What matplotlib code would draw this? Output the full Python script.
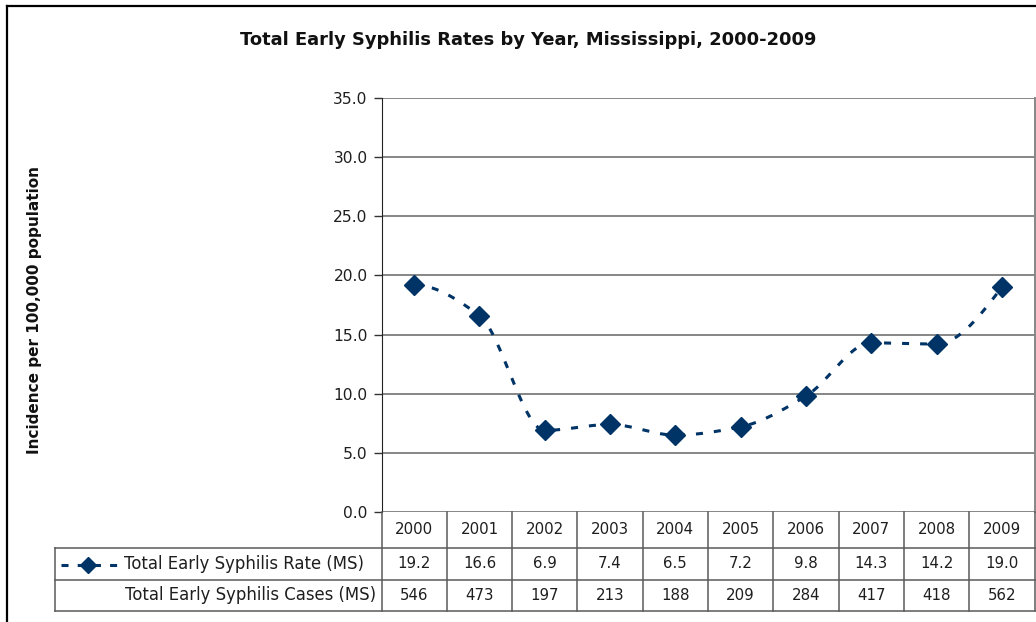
import numpy as np
import matplotlib
matplotlib.use("Agg")
import matplotlib.pyplot as plt
import matplotlib.transforms as mtransforms
from matplotlib.lines import Line2D

years = ["2000", "2001", "2002", "2003", "2004", "2005", "2006", "2007", "2008", "2009"]
rate = [19.2, 16.6, 6.9, 7.4, 6.5, 7.2, 9.8, 14.3, 14.2, 19.0]
cases = [546, 473, 197, 213, 188, 209, 284, 417, 418, 562]
yticks = [0, 5, 10, 15, 20, 25, 30, 35]

W, H = 1036, 622
NAVY = "#003366"
GRID = "#868686"
TXT = "#1e1e1e"

plt.rcParams["font.family"] = "DejaVu Sans"


def fy(py):
    return 1 - py / H


def fx(px):
    return px / W


def smooth(xs, ys, n=30):
    # monotone cubic (Fritsch-Carlson), close to the look of Excel's smoothed line
    xs = np.asarray(xs, float)
    ys = np.asarray(ys, float)
    h = np.diff(xs)
    d = np.diff(ys) / h
    m = np.zeros_like(ys)
    for k in range(1, len(ys) - 1):
        if d[k - 1] * d[k] > 0:
            w1 = 2 * h[k] + h[k - 1]
            w2 = h[k] + 2 * h[k - 1]
            m[k] = (w1 + w2) / (w1 / d[k - 1] + w2 / d[k])
    m[0] = ((2 * h[0] + h[1]) * d[0] - h[0] * d[1]) / (h[0] + h[1])
    if np.sign(m[0]) != np.sign(d[0]):
        m[0] = 0
    m[-1] = ((2 * h[-1] + h[-2]) * d[-1] - h[-1] * d[-2]) / (h[-1] + h[-2])
    if np.sign(m[-1]) != np.sign(d[-1]):
        m[-1] = 0
    t = np.linspace(0, 1, n)
    ox, oy = [], []
    for k in range(len(ys) - 1):
        h00 = 2 * t ** 3 - 3 * t ** 2 + 1
        h10 = t ** 3 - 2 * t ** 2 + t
        h01 = -2 * t ** 3 + 3 * t ** 2
        h11 = t ** 3 - t ** 2
        ox.append(xs[k] + t * h[k])
        oy.append(h00 * ys[k] + h10 * h[k] * m[k] + h01 * ys[k + 1] + h11 * h[k] * m[k + 1])
    return np.concatenate(ox), np.concatenate(oy)


fig = plt.figure(figsize=(W / 100, H / 100), dpi=100)

# outer chart border
fig.add_artist(Line2D([fx(7), fx(7)], [fy(6), fy(640)], color="black", lw=1.6))
fig.add_artist(Line2D([fx(7), fx(1040)], [fy(6), fy(6)], color="black", lw=1.6))

left, right, top, bottom = 381.5, 1034.5, 98, 512
ax = fig.add_axes([fx(left), fy(bottom), fx(right - left), (bottom - top) / H])

x = np.arange(len(years))
sx, sy = smooth(x, rate)
ax.plot(sx, sy, color=NAVY, lw=2.2, dashes=(2.3, 3.6), dash_capstyle="butt")
ax.plot(x, rate, ls="none", marker="D", ms=10.5, color=NAVY, zorder=3)

ax.set_xlim(-0.5, len(years) - 0.5)
ax.set_ylim(0, 35)
ax.set_yticks(yticks)
ax.set_yticklabels([f"{v:.1f}" for v in yticks], fontsize=11.2, color=TXT)
ax.set_xticks([])
ax.tick_params(axis="y", length=6, width=1, color="#333333", pad=4)
for v in yticks:
    ax.axhline(v, color=GRID, lw=1.4, zorder=1)
for s in ["top", "bottom"]:
    ax.spines[s].set_visible(False)
ax.spines["left"].set_color("#222222")
ax.spines["right"].set_color(GRID)
ax.spines["right"].set_linewidth(1.4)

fig.text(fx(528), fy(40), "Total Early Syphilis Rates by Year, Mississippi, 2000-2009",
         ha="center", va="center", fontsize=12.9, fontweight="bold", color="#111111")
fig.text(fx(35), fy(310), "Incidence per 100,000 population", rotation=90,
         ha="center", va="center", fontsize=11, fontweight="bold", color="#111111")

# data table under the plot
rows = [512, 548, 580, 611]
tleft = 55
btr = mtransforms.blended_transform_factory(ax.transData, fig.transFigure)
TL = "#5a5a5a"
for i in range(len(years) + 1):
    fig.add_artist(Line2D([i - 0.5, i - 0.5], [fy(rows[0]), fy(rows[3])], transform=btr,
                          color=TL, lw=1.1))
for r in rows[1:]:
    fig.add_artist(Line2D([fx(tleft), fx(right)], [fy(r), fy(r)], color=TL, lw=1.1))
fig.add_artist(Line2D([fx(tleft), fx(tleft)], [fy(rows[1]), fy(rows[3])], color=TL, lw=1.1))

for i, yr in enumerate(years):
    fig.text(i, fy((rows[0] + rows[1]) / 2), yr, transform=btr, ha="center", va="center",
             fontsize=10.8, color=TXT)
    fig.text(i, fy((rows[1] + rows[2]) / 2), f"{rate[i]:.1f}", transform=btr, ha="center",
             va="center", fontsize=10.8, color=TXT)
    fig.text(i, fy((rows[2] + rows[3]) / 2), f"{cases[i]}", transform=btr, ha="center",
             va="center", fontsize=10.8, color=TXT)

fig.text(fx(364), fy((rows[1] + rows[2]) / 2), "Total Early Syphilis Rate (MS)",
         ha="right", va="center", fontsize=11.9, color=TXT)
fig.text(fx(376), fy((rows[2] + rows[3]) / 2), "Total Early Syphilis Cases (MS)",
         ha="right", va="center", fontsize=11.9, color=TXT)
ky = fy((rows[1] + rows[2]) / 2 + 1)
fig.add_artist(Line2D([fx(61), fx(120)], [ky, ky], color=NAVY, lw=2.2, dashes=(2.3, 3.0)))
fig.add_artist(Line2D([fx(88)], [ky], marker="D", ms=8.5, color=NAVY, ls="none"))

fig.savefig("out.png", dpi=100)
